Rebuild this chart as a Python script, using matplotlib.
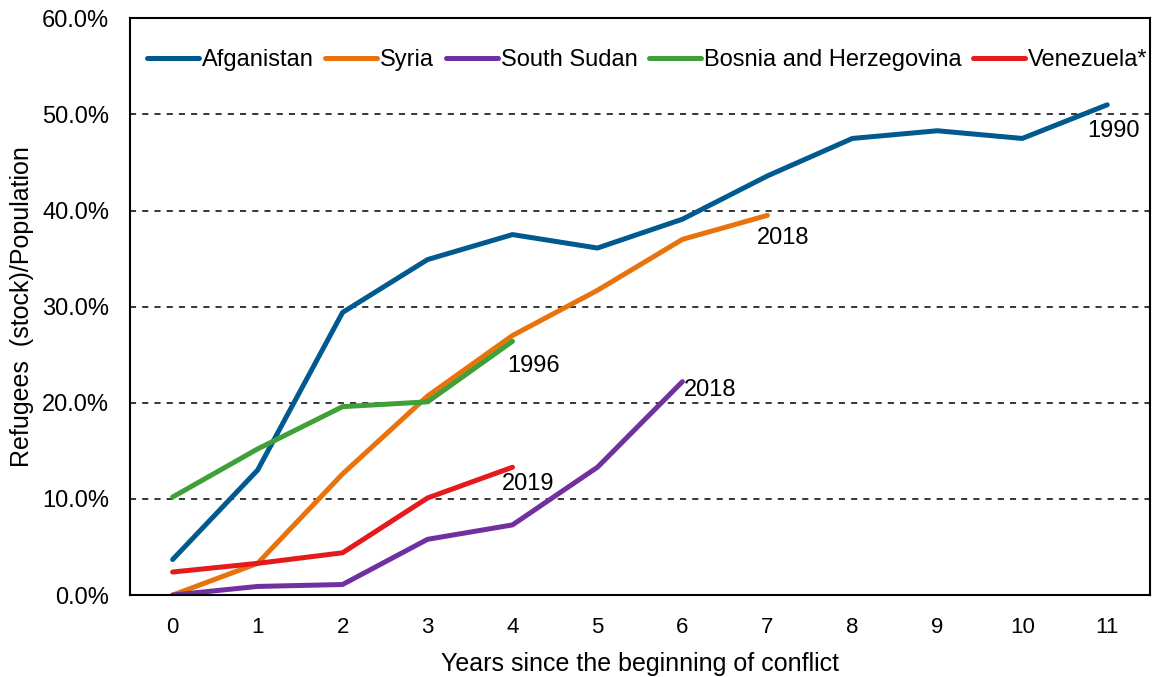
import matplotlib.pyplot as plt
from matplotlib.ticker import PercentFormatter

years = list(range(12))

afganistan = [3.7, 13.0, 29.4, 34.9, 37.5, 36.1, 39.1, 43.6, 47.5, 48.3, 47.5, 51.0]
syria = [0.0, 3.3, 12.6, 20.7, 27.0, 31.7, 37.0, 39.5]
south_sudan = [0.0, 0.9, 1.1, 5.8, 7.3, 13.3, 22.2]
bosnia = [10.2, 15.2, 19.6, 20.1, 26.4]
venezuela = [2.4, 3.3, 4.4, 10.1, 13.3]

series = [
    ("Afganistan", afganistan, "#005a8f"),
    ("Syria", syria, "#e8730c"),
    ("South Sudan", south_sudan, "#7030a0"),
    ("Bosnia and Herzegovina", bosnia, "#3f9f38"),
    ("Venezuela*", venezuela, "#e41a1c"),
]

# année de fin affichée à côté de chaque courbe
end_labels = [("1990", 10.77, 48.3), ("2018", 6.88, 37.1), ("1996", 3.94, 23.8),
              ("2018", 6.02, 21.3), ("2019", 3.87, 11.6)]

plt.rcParams['font.family'] = ['Liberation Sans', 'DejaVu Sans']

fig = plt.figure(figsize=(11.52, 6.77), dpi=100)
ax = fig.add_axes([0.113, 0.121, 0.885, 0.852])

for name, vals, color in series:
    ax.plot(years[:len(vals)], vals, color=color, lw=3.6, label=name,
            solid_capstyle="round")

for txt, x, y in end_labels:
    ax.text(x, y, txt, fontsize=17, ha="left", va="center")

ax.set_xlim(-0.5, 11.5)
ax.set_ylim(0, 60)
ax.set_xticks(years)
ax.set_yticks(range(0, 61, 10))
ax.yaxis.set_major_formatter(PercentFormatter(decimals=1))
ax.tick_params(length=0)
ax.tick_params(axis="x", labelsize=16, pad=16)
ax.tick_params(axis="y", labelsize=17, pad=15)
for y in range(10, 60, 10):
    ax.axhline(y, color="black", ls=(0, (4, 4)), lw=1.1, zorder=0)
for s in ax.spines.values():
    s.set_linewidth(1.5)

ax.set_xlabel("Years since the beginning of conflict", fontsize=18, labelpad=10)
ax.set_ylabel("Refugees  (stock)/Population", fontsize=18, labelpad=6)

ax.legend(loc="upper left", bbox_to_anchor=(0.0, 0.975), ncol=5, frameon=False,
          fontsize=17, handlelength=2.2, columnspacing=0.5, handletextpad=0.12,
          borderaxespad=0.3)

plt.savefig("out.png", dpi=100)
